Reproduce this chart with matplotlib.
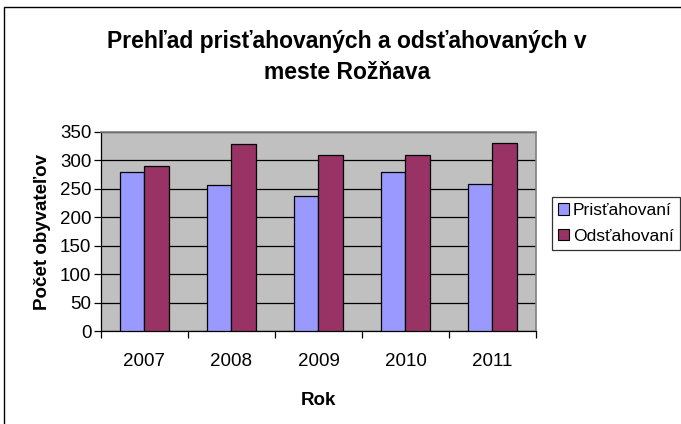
import matplotlib
matplotlib.use("Agg")
import matplotlib.pyplot as plt
import numpy as np
from matplotlib.patches import Rectangle, Patch

years = ["2007", "2008", "2009", "2010", "2011"]
pristahovani = [280, 256, 237, 280, 258]
odstahovani = [290, 329, 310, 310, 331]
series_names = ["Prisťahovaní", "Odsťahovaní"]
yticks = [0, 50, 100, 150, 200, 250, 300, 350]

W, H = 681, 424
DPI = 100
plt.rcParams['font.family'] = ['Liberation Sans', 'DejaVu Sans']

fig = plt.figure(figsize=(W / DPI, H / DPI), dpi=DPI)
fig.patch.set_facecolor('white')

# outer chart border
fig.patches.append(Rectangle((4 / W, -0.1), 1.2, (H - 7) / H + 0.1,
                             transform=fig.transFigure, fill=False,
                             edgecolor='black', lw=1.0))

L, R, T, B = 101, 536, 132, 331
ax = fig.add_axes([L / W, (H - B) / H, (R - L) / W, (B - T) / H])
ax.set_facecolor('#C0C0C0')

x = np.arange(len(years))
w = 0.2857
ax.bar(x - w / 2, pristahovani, w, color='#9999FF', edgecolor='black', lw=0.9,
       label=series_names[0], zorder=3)
ax.bar(x + w / 2, odstahovani, w, color='#993366', edgecolor='black', lw=0.9,
       label=series_names[1], zorder=3)

ax.set_xlim(-0.5, len(years) - 0.5)
ax.set_ylim(0, 350)
ax.set_yticks(yticks)
ax.tick_params(axis='y', labelsize=13.5, length=5, width=0.9, direction='out',
               pad=2, colors='black')
ax.set_xticks(x)
ax.set_xticklabels(years)
ax.tick_params(axis='x', which='major', length=0, labelsize=13.5, pad=16)
ax.set_xticks(np.arange(-0.5, len(years)), minor=True)
ax.tick_params(axis='x', which='minor', length=5, width=0.9, direction='out')

ax.set_axisbelow(True)
ax.yaxis.grid(True, color='black', lw=0.9)

for s in ['top', 'right']:
    ax.spines[s].set_color('#808080')
    ax.spines[s].set_linewidth(1.2)
for s in ['left', 'bottom']:
    ax.spines[s].set_color('black')
    ax.spines[s].set_linewidth(0.9)

ax.set_xlabel("Rok", fontsize=13.5, fontweight='bold', labelpad=16)
ax.set_ylabel("Počet obyvateľov", fontsize=13.5, fontweight='bold', labelpad=6)

fig.text(347 / W, 1 - 57 / H, "Prehľad prisťahovaných a odsťahovaných v\nmeste Rožňava",
         ha='center', va='center', fontsize=16.5, fontweight='bold',
         linespacing=1.4)

handles = [Patch(facecolor='#9999FF', edgecolor='black', lw=0.8),
           Patch(facecolor='#993366', edgecolor='black', lw=0.8)]
leg = fig.legend(handles, series_names, loc='upper left',
                 bbox_to_anchor=(552 / W, 1 - 197 / H), fontsize=12.6,
                 frameon=True, fancybox=False, handlelength=0.6, handleheight=0.6,
                 handletextpad=0.25, borderpad=0.35, labelspacing=0.6,
                 borderaxespad=0)
leg.get_frame().set_edgecolor('black')
leg.get_frame().set_linewidth(0.9)

fig.savefig("out.png", dpi=DPI)
